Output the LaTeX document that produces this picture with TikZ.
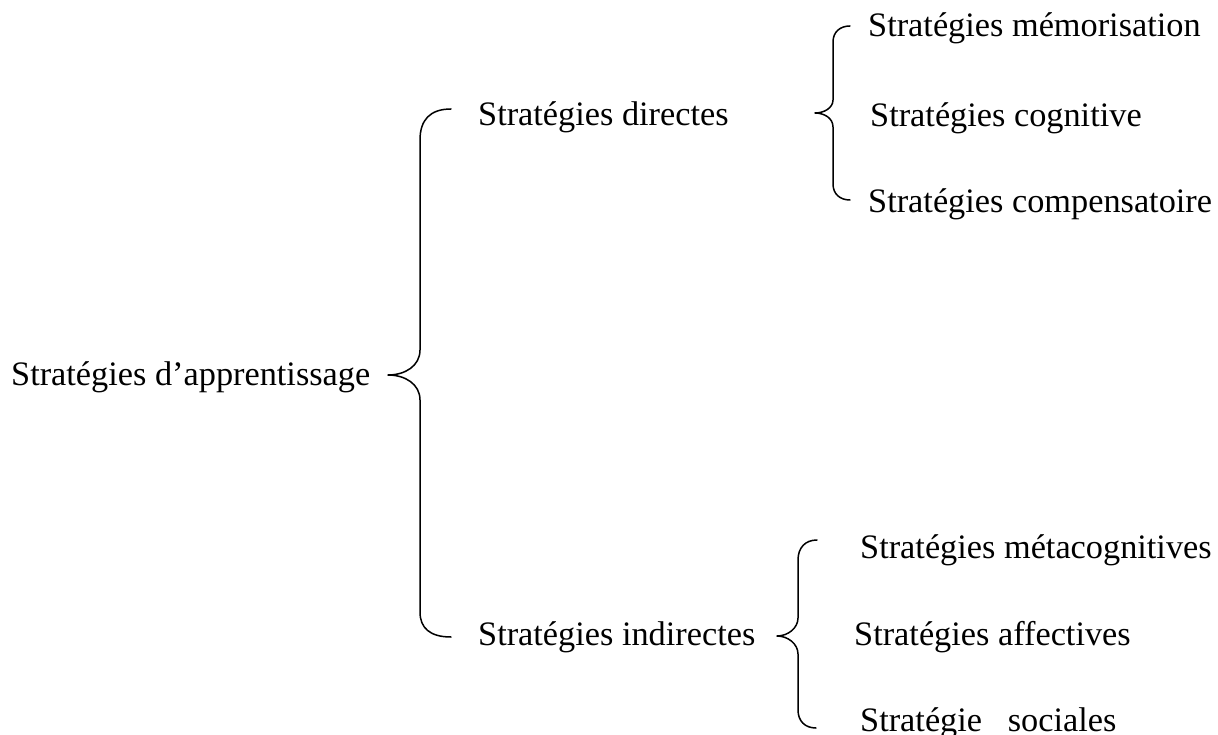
\documentclass[tikz,border=0pt]{standalone}
\usepackage{fontspec}
\setmainfont{Liberation Serif}
\begin{document}
\begin{tikzpicture}[x=1pt,y=-1pt,
  lbl/.style={inner sep=0pt,anchor=base west,font=\fontsize{34.3}{40}\selectfont},
  brc/.style={draw=black,line width=1.5pt,line cap=round,line join=round}]
\useasboundingbox (0,0) rectangle (1218,735);
% texts
\node[lbl] (root) at (11,385) {Stratégies d’apprentissage};
\node[lbl] (dir) at (478,126) {Stratégies directes};
\node[lbl] (ind) at (478,645) {Stratégies indirectes};
\node[lbl] (mem) at (868,37) {Stratégies mémorisation};
\node[lbl] (cog) at (870,127) {Stratégies cognitive};
\node[lbl] (comp) at (868,213) {Stratégies compensatoire};
\node[lbl] (meta) at (860,558) {Stratégies métacognitives};
\node[lbl] (aff) at (854,645) {Stratégies affectives};
\node[lbl] (soc) at (860,731) {Stratégie\ \ \ sociales};
% big brace
\coordinate (bt) at (451,109);
\coordinate (bm) at (388,375);
\coordinate (bb) at (451,637);
\draw[brc] (bt) .. controls (430,109) and (420,120) .. (420,140)
  -- (420,350) .. controls (420,366) and (405,375) .. (bm)
  .. controls (405,375) and (420,384) .. (420,400)
  -- (420,612) .. controls (420,628) and (430,637) .. (bb);
% upper brace
\coordinate (ut) at (850,26);
\coordinate (um) at (815,113);
\coordinate (ub) at (850,200);
\draw[brc] (ut) .. controls (840,26) and (833,32) .. (833,42)
  -- (833,100) .. controls (833,108) and (824,113) .. (um)
  .. controls (824,113) and (833,118) .. (833,127)
  -- (833,184) .. controls (833,194) and (840,200) .. (ub);
% lower brace
\coordinate (lt) at (817,540);
\coordinate (lm) at (777,636);
\coordinate (lb) at (816,728);
\draw[brc] (lt) .. controls (805,540) and (798,548) .. (798,560)
  -- (798,618) .. controls (798,628) and (788,636) .. (lm)
  .. controls (788,636) and (798,644) .. (798,654)
  -- (798,710) .. controls (798,721) and (805,728) .. (lb);
\end{tikzpicture}
\end{document}
